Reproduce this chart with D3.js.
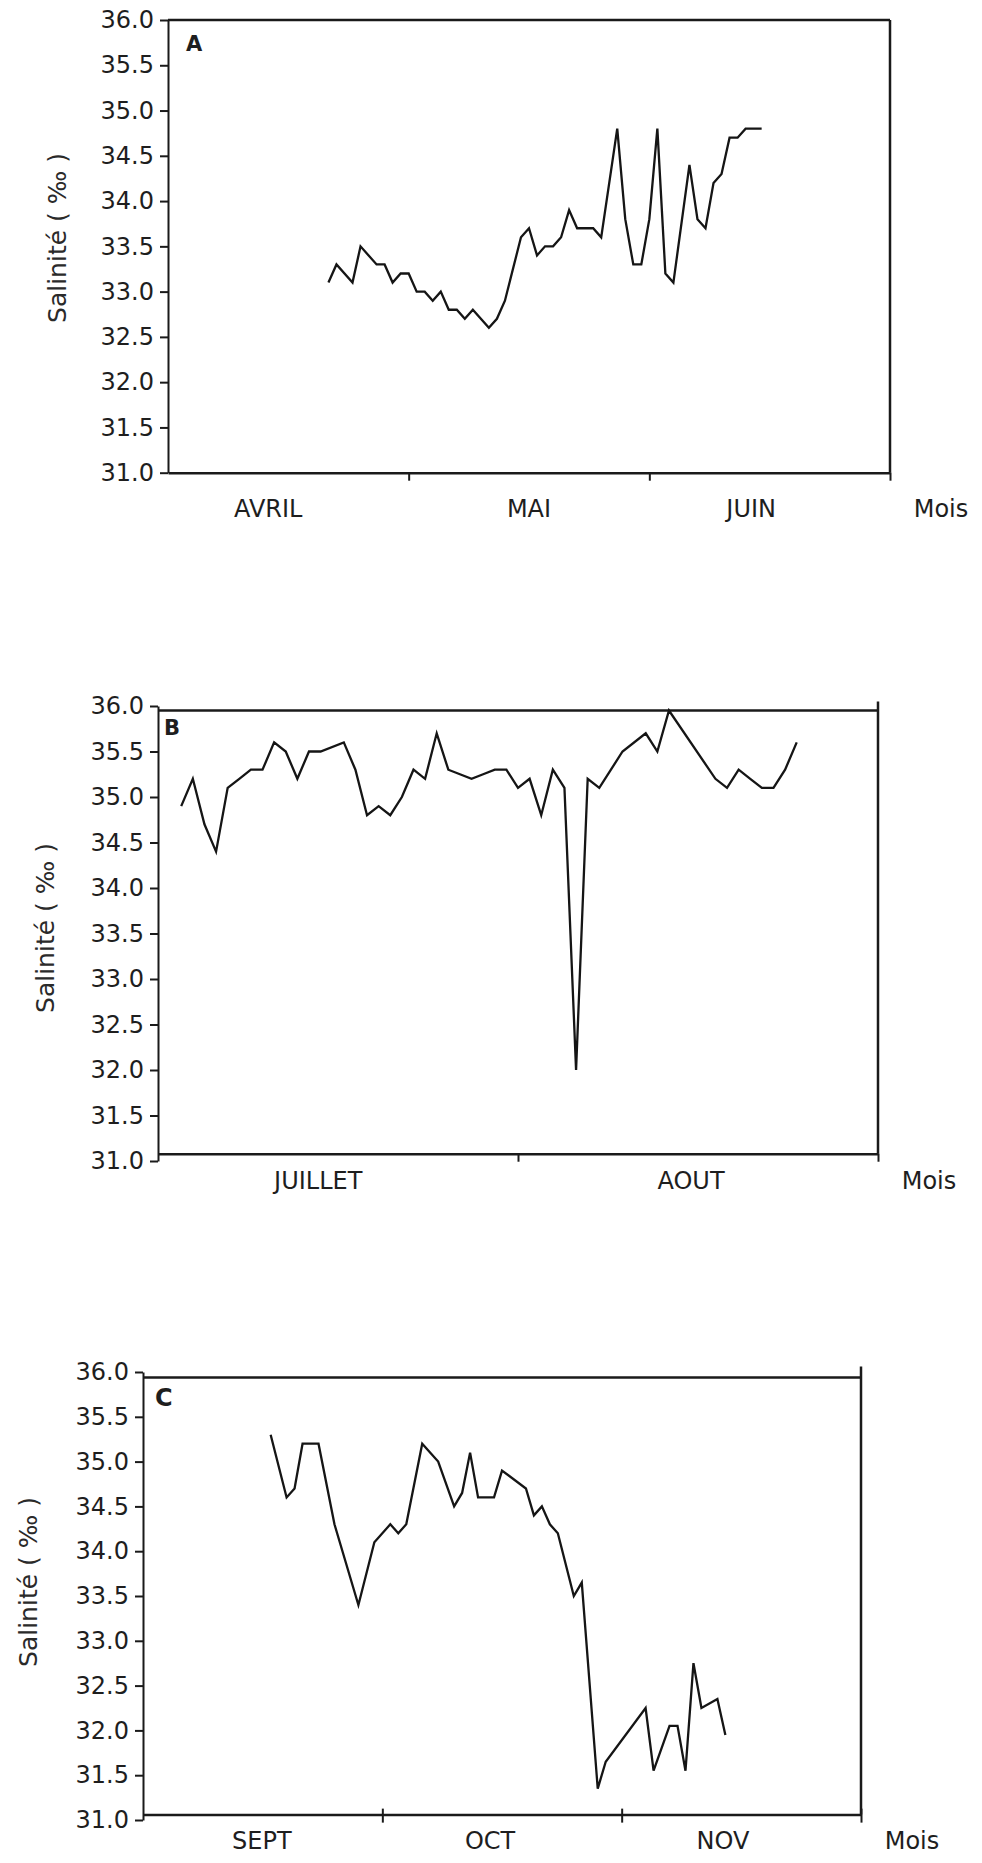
<!DOCTYPE html>
<html>
<head>
<meta charset="utf-8">
<script src="https://cdn.jsdelivr.net/npm/d3@7"></script>
<style>
  body { margin: 0; background: #fff; }
  svg { display: block; background: #fff; }
  .axis path, .axis line { stroke: #1a1a1a; stroke-width: 2; }
  .axis text { font-family: "DejaVu Sans", sans-serif; font-size: 24px; fill: #1e1e1e; }
  .frame { stroke: #1a1a1a; stroke-width: 2.5; }
  .month, .unit { font-family: "DejaVu Sans", sans-serif; font-size: 24px; fill: #1e1e1e; }
  .ytitle { font-family: "DejaVu Sans", sans-serif; font-size: 25px; fill: #2a2a2a; }
  .letter { font-family: "DejaVu Sans", sans-serif; font-weight: bold; fill: #1e1e1e; }
  .series { fill: none; stroke: #151515; stroke-width: 2.3; stroke-linejoin: miter; }
</style>
</head>
<body>
<svg id="chart"></svg>
<script>
// salinity (‰), x = day counted from the start of the first month shown

const yTickValues = [31.0, 31.5, 32.0, 32.5, 33.0, 33.5, 34.0, 34.5, 35.0, 35.5, 36.0];

// A : avril - juin
const monthsA = ["AVRIL", "MAI", "JUIN"];
const edgesA = [0, 30, 60, 90];
const daysA = [20, 21, 23, 24, 26, 27, 28, 29, 30, 31, 32, 33, 34, 35, 36, 37, 38, 40, 41, 42,
               44, 45, 46, 47, 48, 49, 50, 51, 52, 53, 54, 56, 57, 58, 59, 60, 61, 62, 63, 65,
               66, 67, 68, 69, 70, 71, 72, 73, 74];
const salA = [33.1, 33.3, 33.1, 33.5, 33.3, 33.3, 33.1, 33.2, 33.2, 33.0, 33.0, 32.9, 33.0, 32.8, 32.8, 32.7, 32.8, 32.6, 32.7, 32.9,
              33.6, 33.7, 33.4, 33.5, 33.5, 33.6, 33.9, 33.7, 33.7, 33.7, 33.6, 34.8, 33.8, 33.3, 33.3, 33.8, 34.8, 33.2, 33.1, 34.4,
              33.8, 33.7, 34.2, 34.3, 34.7, 34.7, 34.8, 34.8, 34.8];

// B : juillet - aout
const monthsB = ["JUILLET", "AOUT"];
const edgesB = [0, 31, 62];
const daysB = [2, 3, 4, 5, 6, 7, 8, 9, 10, 11, 12, 13, 14, 16, 17, 18, 19, 20, 21, 22,
               23, 24, 25, 26, 27, 28, 29, 30, 31, 32, 33, 34, 35, 36, 37, 38, 40, 42, 43, 44,
               48, 49, 50, 51, 52, 53, 54, 55];
const salB = [34.9, 35.2, 34.7, 34.4, 35.1, 35.2, 35.3, 35.3, 35.6, 35.5, 35.2, 35.5, 35.5, 35.6, 35.3, 34.8, 34.9, 34.8, 35.0, 35.3,
              35.2, 35.7, 35.3, 35.25, 35.2, 35.25, 35.3, 35.3, 35.1, 35.2, 34.8, 35.3, 35.1, 32.0, 35.2, 35.1, 35.5, 35.7, 35.5, 35.95,
              35.2, 35.1, 35.3, 35.2, 35.1, 35.1, 35.3, 35.6];

// C : septembre - novembre
const monthsC = ["SEPT", "OCT", "NOV"];
const edgesC = [0, 30, 60, 90];
const daysC = [16, 18, 19, 20, 22, 24, 27, 29, 31, 32, 33, 35, 37, 39, 40, 41, 42, 44, 45, 48,
               49, 50, 51, 52, 54, 55, 57, 58, 63, 64, 66, 67, 68, 69, 70, 72, 73];
const salC = [35.3, 34.6, 34.7, 35.2, 35.2, 34.3, 33.4, 34.1, 34.3, 34.2, 34.3, 35.2, 35.0, 34.5, 34.65, 35.1, 34.6, 34.6, 34.9, 34.7,
              34.4, 34.5, 34.3, 34.2, 33.5, 33.65, 31.35, 31.65, 32.25, 31.55, 32.05, 32.05, 31.55, 32.75, 32.25, 32.35, 31.95];


/* LAYOUT OF THE THREE PANELS */

let panels = [
  { letter: "A", months: monthsA, edges: edgesA, days: daysA, sal: salA,
    left: 168, right: 890, top: 20, bottom: 472.7,
    frameTop: 36, frameBottom: 31, borderTop: 36,
    labelAt: [12.5, 45, 72.7], labelY: 517, title: [57, 238],
    letterAt: [186, 51], letterSize: 21, tickUp: 0 },
  { letter: "B", months: monthsB, edges: edgesB, days: daysB, sal: salB,
    left: 158, right: 878, top: 706, bottom: 1161,
    frameTop: 35.95, frameBottom: 31.08, borderTop: 36.05,
    labelAt: [13.8, 45.9], labelY: 1189, title: [45, 928],
    letterAt: [164, 735], letterSize: 21, tickUp: 0 },
  { letter: "C", months: monthsC, edges: edgesC, days: daysC, sal: salC,
    left: 143, right: 861, top: 1372, bottom: 1820,
    frameTop: 35.94, frameBottom: 31.06, borderTop: 36.06,
    labelAt: [14.9, 43.5, 72.7], labelY: 1849, title: [28, 1582],
    letterAt: [155, 1406], letterSize: 24, tickUp: 6 }
];

let svg = d3.select("#chart")
            .attr("width", 982)
            .attr("height", 1863);

function drawPanel(p) {
  let last = p.edges[p.edges.length - 1];
  let x = d3.scaleLinear().domain([0, last]).range([p.left, p.right]);
  let y = d3.scaleLinear().domain([31, 36]).range([p.bottom, p.top]);
  let g = svg.append("g");

  // salinity axis
  g.append("g")
    .attr("class", "axis")
    .attr("transform", `translate(${p.left},0)`)
    .call(d3.axisLeft(y)
            .tickValues(yTickValues)
            .tickFormat(d3.format(".1f"))
            .tickSize(8)
            .tickSizeOuter(0)
            .tickPadding(6))
    .call(a => a.selectAll("text").attr("font-family", null).attr("font-size", null));

  // month axis sits on the bottom of the frame
  let yb = y(p.frameBottom);
  g.append("g")
    .attr("class", "axis")
    .attr("transform", `translate(0,${yb})`)
    .call(d3.axisBottom(x)
            .tickValues(p.edges.slice(1))
            .tickFormat("")
            .tickSize(8)
            .tickSizeOuter(0))
    .call(a => a.selectAll(".tick line").attr("y1", -p.tickUp))
    .call(a => a.select(".domain").style("stroke-width", 2.5));

  // rest of the box
  g.append("line").attr("class", "frame")
    .attr("x1", p.left).attr("x2", x(last))
    .attr("y1", y(p.frameTop)).attr("y2", y(p.frameTop));
  g.append("line").attr("class", "frame")
    .attr("x1", x(last)).attr("x2", x(last))
    .attr("y1", y(p.borderTop)).attr("y2", yb);

  // month names + "Mois"
  g.selectAll(".month")
    .data(p.months)
    .enter()
    .append("text")
    .attr("class", "month")
    .attr("text-anchor", "middle")
    .attr("x", (d, i) => x(p.labelAt[i]))
    .attr("y", p.labelY)
    .text(d => d);

  g.append("text")
    .attr("class", "unit")
    .attr("text-anchor", "middle")
    .attr("x", x(last) + 51)
    .attr("y", p.labelY)
    .text("Mois");

  g.append("text")
    .attr("class", "ytitle")
    .attr("text-anchor", "middle")
    .attr("dy", "0.35em")
    .attr("transform", `translate(${p.title[0]},${p.title[1]}) rotate(-90)`)
    .text("Salinité ( ‰ )");

  g.append("text")
    .attr("class", "letter")
    .attr("x", p.letterAt[0])
    .attr("y", p.letterAt[1])
    .style("font-size", p.letterSize + "px")
    .text(p.letter);

  // the series itself
  let line = d3.line()
               .x((d, i) => x(p.days[i]))
               .y(d => y(d));

  g.append("path")
    .datum(p.sal)
    .attr("class", "series")
    .attr("d", line);
}

panels.forEach(drawPanel);
</script>
</body>
</html>
